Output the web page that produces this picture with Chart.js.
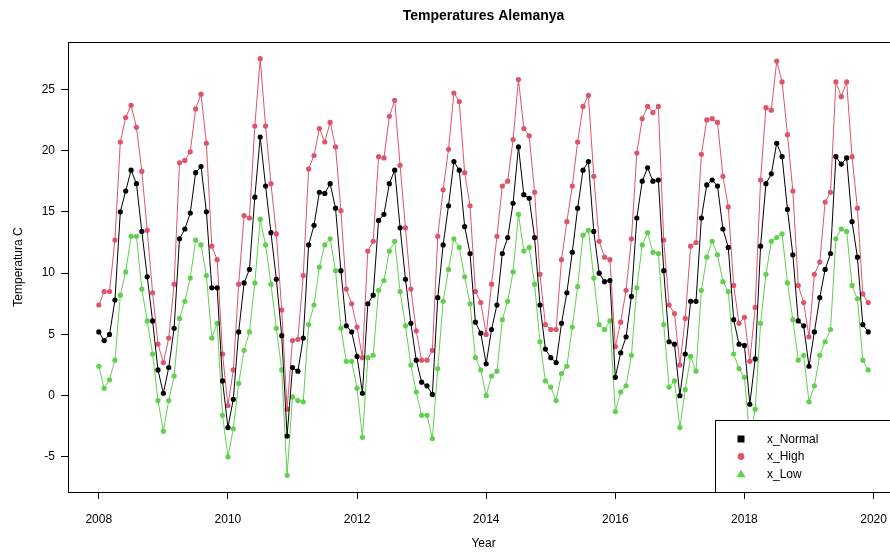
<!DOCTYPE html>
<html>
<head>
<meta charset="utf-8">
<title>Temperatures Alemanya</title>
<script src="https://cdn.jsdelivr.net/npm/chart.js@4"></script>
<style>
  html, body { margin: 0; padding: 0; background: #fff; overflow: hidden; }
  #wrap { width: 910px; height: 554px; }
</style>
</head>
<body>
<div id="wrap"><canvas id="chart" width="910" height="554"></canvas></div>
<script>
// Monthly series, January 2008 to December 2019 (one value per month)
const startYear = 2008;

const xNormal = [
  5.2, 4.5, 5.0, 7.8, 15.0, 16.7, 18.4, 17.3, 13.4, 9.7, 6.1, 2.1,
  0.2, 2.3, 5.5, 12.8, 13.6, 14.9, 18.2, 18.7, 15.0, 8.8, 8.8, 1.2,
  -2.6, -0.3, 5.2, 9.2, 10.3, 16.2, 21.1, 17.1, 13.3, 9.5, 4.9, -3.3,
  2.3, 2.0, 4.7, 12.3, 13.9, 16.6, 16.5, 17.3, 15.3, 10.2, 5.7, 5.2,
  3.2, 0.2, 7.5, 8.2, 14.3, 14.8, 17.3, 18.4, 13.7, 9.5, 5.9, 2.9,
  1.1, 0.8, 0.1, 8.0, 12.3, 15.5, 19.1, 18.4, 13.8, 11.6, 6.0, 5.1,
  2.6, 5.4, 7.4, 11.6, 12.9, 15.7, 20.3, 16.4, 16.1, 12.9, 7.4, 3.8,
  3.1, 2.7, 5.9, 8.4, 11.7, 15.3, 18.4, 19.1, 13.4, 10.0, 9.3, 9.4,
  1.5, 3.5, 4.8, 8.1, 14.5, 17.5, 18.6, 17.5, 17.6, 10.2, 4.4, 4.2,
  0.0, 3.4, 7.7, 7.7, 14.5, 17.2, 17.6, 17.1, 13.6, 12.1, 6.2, 4.2,
  4.1, -0.7, 3.0, 12.2, 17.3, 18.1, 20.6, 19.5, 15.2, 11.5, 6.1, 5.7,
  2.4, 5.2, 8.0, 10.3, 11.6, 19.5, 18.9, 19.4, 14.2, 11.3, 5.8, 5.2
];

const xHigh = [
  7.4, 8.5, 8.5, 12.7, 20.7, 22.7, 23.7, 21.9, 18.3, 13.5, 8.4, 4.2,
  2.7, 4.7, 9.1, 19.0, 19.2, 19.9, 23.4, 24.6, 20.6, 12.2, 11.1, 3.4,
  -0.8, 2.1, 9.1, 14.7, 14.5, 22.0, 27.5, 22.0, 17.3, 13.2, 7.0, -1.1,
  4.5, 4.6, 9.8, 18.5, 19.6, 21.8, 20.7, 22.3, 20.3, 15.1, 8.7, 7.5,
  5.6, 3.1, 11.8, 12.6, 19.5, 19.4, 22.8, 24.1, 18.8, 13.7, 8.7, 5.3,
  2.9, 2.9, 3.7, 13.0, 16.8, 20.1, 24.7, 24.0, 18.2, 15.5, 8.5, 7.6,
  5.0, 9.1, 13.0, 17.1, 17.5, 20.9, 25.8, 21.8, 21.2, 16.6, 9.9, 5.8,
  5.4, 5.4, 11.1, 14.2, 17.1, 20.7, 23.6, 24.5, 17.9, 12.6, 11.3, 11.1,
  4.0, 6.0, 8.6, 12.8, 19.8, 22.6, 23.6, 23.1, 23.6, 12.7, 7.4, 6.7,
  2.5, 6.3, 12.2, 12.5, 19.7, 22.5, 22.6, 22.3, 17.9, 15.4, 9.0, 5.9,
  6.4, 2.8, 7.2, 17.6, 23.5, 23.3, 27.3, 25.6, 21.3, 16.7, 9.0, 7.6,
  4.8, 9.9, 10.9, 15.8, 16.6, 25.6, 24.4, 25.6, 19.5, 15.3, 8.3, 7.6
];

const xLow = [
  2.4, 0.6, 1.3, 2.9, 8.2, 10.1, 13.0, 13.0, 8.7, 6.1, 3.4, -0.4,
  -2.9, -0.4, 1.6, 6.3, 7.7, 9.6, 12.7, 12.3, 9.8, 4.7, 5.9, -1.6,
  -5.0, -2.7, 1.0, 3.7, 5.2, 9.2, 14.4, 12.3, 9.1, 5.5, 2.1, -6.5,
  -0.1, -0.4, -0.5, 5.8, 7.4, 10.5, 12.3, 12.8, 10.2, 5.5, 2.8, 2.8,
  0.6, -3.4, 3.1, 3.3, 8.6, 9.4, 11.8, 12.6, 8.5, 5.7, 2.5, 0.3,
  -1.6, -1.6, -3.5, 2.2, 7.7, 10.3, 12.8, 12.1, 9.7, 7.5, 3.1, 2.1,
  0.0, 1.6, 2.0, 6.2, 7.7, 10.1, 14.8, 11.8, 12.1, 9.1, 4.4, 1.2,
  0.7, -0.4, 1.8, 2.4, 5.6, 8.9, 13.1, 13.5, 9.6, 5.8, 5.4, 6.1,
  -1.3, 0.3, 0.8, 3.3, 8.8, 12.3, 13.3, 11.7, 11.6, 5.8, 0.7, 1.2,
  -2.6, 0.5, 3.2, 2.0, 8.6, 11.3, 12.6, 11.5, 9.3, 8.5, 3.4, 2.2,
  1.5, -3.5, -1.1, 5.9, 9.9, 12.6, 12.9, 13.2, 9.2, 6.2, 2.9, 3.3,
  -0.5, 0.8, 3.3, 4.4, 5.4, 12.8, 13.6, 13.4, 9.0, 7.9, 2.9, 2.1
];

const yearTicks = [2008, 2010, 2012, 2014, 2016, 2018, 2020];
const tempTicks = [-5, 0, 5, 10, 15, 20, 25];

const seriesNames = ['x_Normal', 'x_High', 'x_Low'];
const seriesColors = ['#000000', '#DF536B', '#61D04F'];

const FONT = "'Liberation Sans', Arial, Helvetica, sans-serif";

const toPoints = arr => arr.map((v, i) => ({ x: startYear + i / 12, y: v }));

function makeDataset(label, values, color) {
  return {
    label: label,
    data: toPoints(values),
    borderColor: color,
    backgroundColor: color,
    borderWidth: 1,
    pointRadius: 2.6,
    pointHoverRadius: 2.6,
    pointBorderWidth: 0,
    pointStyle: 'circle',
    tension: 0,
    fill: false
  };
}

// Box around the plotting region plus a bottom-right legend with a white background
const frameAndLegend = {
  id: 'frameAndLegend',
  afterDraw(chart) {
    const { ctx, chartArea: a } = chart;
    ctx.save();
    ctx.strokeStyle = '#000';
    ctx.lineWidth = 1;
    ctx.strokeRect(Math.round(a.left) + 0.5, Math.round(a.top) + 0.5,
                   Math.round(a.right - a.left), Math.round(a.bottom - a.top));

    // legend
    const boxLeft = 715.5, boxTop = 420.5;
    const boxRight = a.right + 0.5, boxBottom = Math.round(a.bottom) + 0.5;
    ctx.fillStyle = '#fff';
    ctx.fillRect(boxLeft, boxTop, boxRight - boxLeft, boxBottom - boxTop);
    ctx.strokeRect(boxLeft, boxTop, boxRight - boxLeft, boxBottom - boxTop);

    const symX = 741, textX = 767;
    const rows = [439, 456.5, 474];
    ctx.font = '12px ' + FONT;
    ctx.textBaseline = 'middle';
    ctx.textAlign = 'left';
    seriesNames.forEach((name, i) => {
      const y = rows[i];
      ctx.fillStyle = seriesColors[i];
      if (i === 0) {
        ctx.fillRect(symX - 3.5, y - 3.5, 7, 7);
      } else if (i === 1) {
        ctx.beginPath();
        ctx.arc(symX, y, 3.4, 0, Math.PI * 2);
        ctx.fill();
      } else {
        ctx.beginPath();
        ctx.moveTo(symX, y - 4.5);
        ctx.lineTo(symX + 4.5, y + 3.3);
        ctx.lineTo(symX - 4.5, y + 3.3);
        ctx.closePath();
        ctx.fill();
      }
      ctx.fillStyle = '#000';
      ctx.fillText(name, textX, y + 0.5);
    });
    ctx.restore();
  }
};

new Chart(document.getElementById('chart'), {
  type: 'line',
  data: {
    datasets: [
      makeDataset(seriesNames[0], xNormal, seriesColors[0]),
      makeDataset(seriesNames[1], xHigh, seriesColors[1]),
      makeDataset(seriesNames[2], xLow, seriesColors[2])
    ]
  },
  options: {
    responsive: false,
    animation: false,
    devicePixelRatio: 1,
    layout: { padding: { top: 0, left: 0, right: 11, bottom: 0 } },
    plugins: {
      legend: { display: false },
      tooltip: { enabled: false },
      title: {
        display: true,
        text: 'Temperatures Alemanya',
        fullSize: false,
        color: '#000',
        font: { family: FONT, size: 14, weight: 'bold', lineHeight: 1.2 },
        padding: { top: 8, bottom: 17.2 }
      }
    },
    scales: {
      x: {
        type: 'linear',
        min: 2007.523,
        max: 2020.394,
        afterBuildTicks: s => { s.ticks = yearTicks.map(v => ({ value: v })); },
        afterFit: s => { s.height = 62; },
        grid: {
          drawOnChartArea: false,
          drawTicks: true,
          tickLength: 7,
          tickColor: '#000',
          lineWidth: 1
        },
        border: { display: false },
        ticks: {
          color: '#000',
          font: { family: FONT, size: 12 },
          padding: 13,
          maxRotation: 0,
          autoSkip: false,
          callback: v => String(v)
        },
        title: {
          display: true,
          text: 'Year',
          color: '#000',
          font: { family: FONT, size: 12, lineHeight: 1.2 },
          padding: { top: 0, bottom: 3 }
        }
      },
      y: {
        type: 'linear',
        min: -7.86,
        max: 28.86,
        afterBuildTicks: s => { s.ticks = tempTicks.map(v => ({ value: v })); },
        afterFit: s => { s.width = 68; },
        grid: {
          drawOnChartArea: false,
          drawTicks: true,
          tickLength: 7,
          tickColor: '#000',
          lineWidth: 1
        },
        border: { display: false },
        ticks: {
          color: '#000',
          font: { family: FONT, size: 12 },
          padding: 6,
          autoSkip: false,
          callback: v => String(v)
        },
        title: {
          display: true,
          text: 'Temperatura C',
          color: '#000',
          font: { family: FONT, size: 12, lineHeight: 1.2 },
          padding: { top: 11, bottom: 0 }
        }
      }
    }
  },
  plugins: [frameAndLegend]
});
</script>
</body>
</html>
